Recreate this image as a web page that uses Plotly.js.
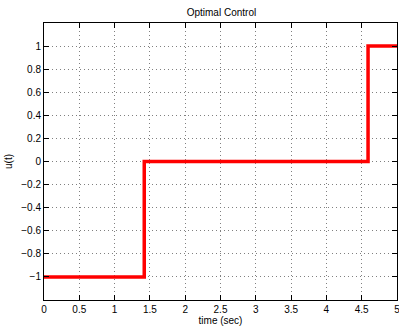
<!DOCTYPE html>
<html>
<head>
<meta charset="utf-8">
<script src="https://cdn.plot.ly/plotly-3.0.1.min.js"></script>
<style>html,body{margin:0;padding:0;background:#fff}#plot{width:399px;height:327px}</style>
</head>
<body>
<div id="plot"></div>
<script>
const timeSec = [0, 1.42, 4.59, 5];
const control = [-1, 0, 1, 1];
const xTicks = [0, 0.5, 1, 1.5, 2, 2.5, 3, 3.5, 4, 4.5, 5];
const xTickText = ['0', '0.5', '1', '1.5', '2', '2.5', '3', '3.5', '4', '4.5', '5'];
const yTicks = [-1, -0.8, -0.6, -0.4, -0.2, 0, 0.2, 0.4, 0.6, 0.8, 1];
const yTickText = ['\u22121', '\u22120.8', '\u22120.6', '\u22120.4', '\u22120.2', '0', '0.2', '0.4', '0.6', '0.8', '1'];

const font = {family: 'Liberation Sans, Arial, sans-serif', size: 10, color: '#000'};
const axisCommon = {
  showline: true, linecolor: '#000', linewidth: 1, mirror: 'ticks',
  ticks: 'inside', ticklen: 5, tickcolor: '#000', tickwidth: 1,
  showgrid: true, gridcolor: '#808080', griddash: '1px,3px', gridwidth: 1,
  zeroline: false, tickfont: font, tickmode: 'array', ticklabeloverflow: 'allow'
};
Plotly.newPlot('plot', [{
  x: timeSec, y: control, type: 'scatter', mode: 'lines',
  line: {shape: 'hv', color: '#ff0000', width: 3.5}
}], {
  width: 399, height: 327,
  margin: {l: 44, r: 2, t: 23, b: 27},
  paper_bgcolor: '#fff', plot_bgcolor: '#fff',
  showlegend: false,
  font: font,
  title: {text: 'Optimal Control', font: font, x: 0.555, xanchor: 'center', y: 0.962, yanchor: 'middle'},
  xaxis: Object.assign({}, axisCommon, {
    range: [0, 5], tickvals: xTicks, ticktext: xTickText,
    title: {text: 'time (sec)', font: font, standoff: 2}
  }),
  yaxis: Object.assign({}, axisCommon, {
    range: [-1.2, 1.2], tickvals: yTicks, ticktext: yTickText,
    title: {text: 'u(t)', font: font, standoff: 6}
  })
}, {staticPlot: true});
</script>
</body>
</html>
